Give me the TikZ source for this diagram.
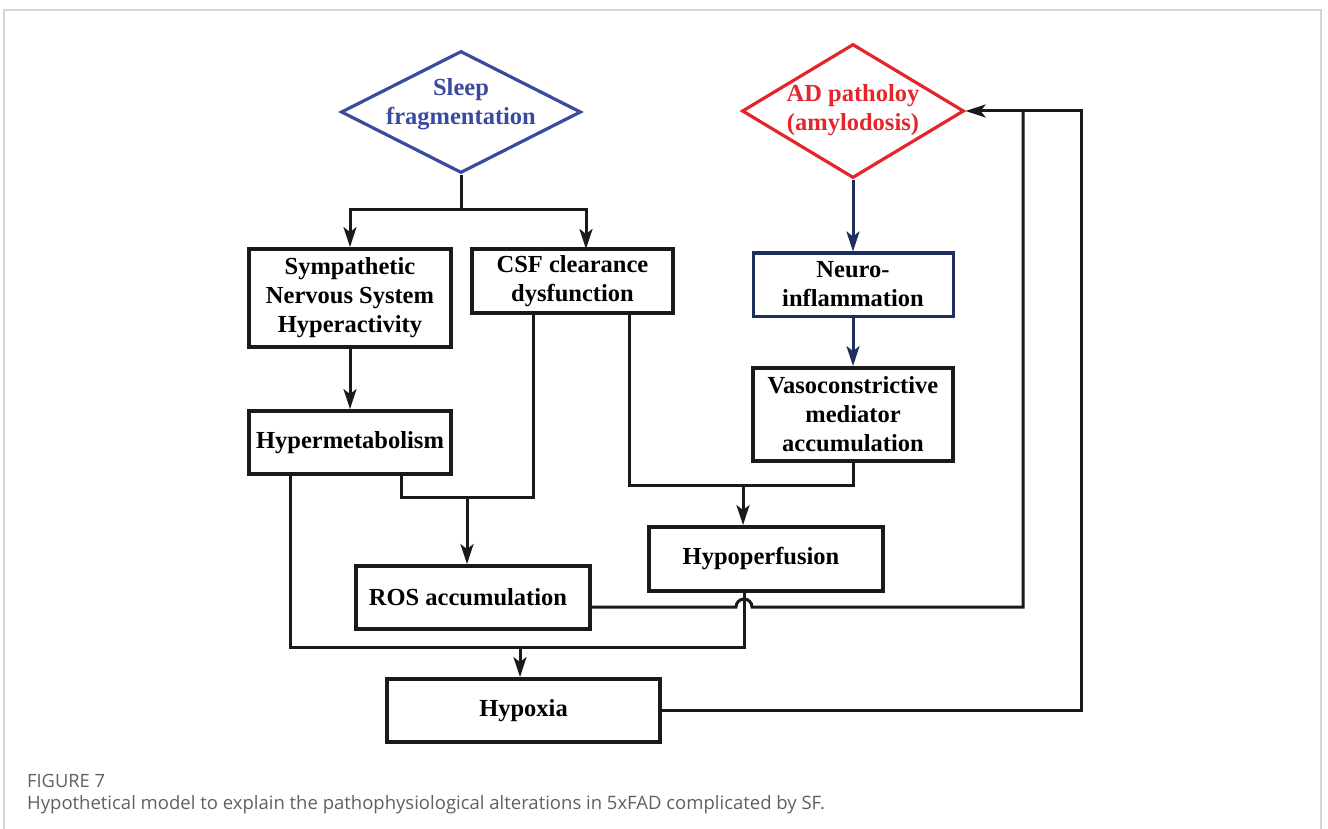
\documentclass[tikz,border=0pt]{standalone}
\usepackage{fontspec}
\setmainfont{Liberation Serif}
\newfontfamily\captionfont{Open Sans}
\usetikzlibrary{shapes.geometric,arrows.meta}

\definecolor{sleepblue}{HTML}{3A4AA0}
\definecolor{adred}{HTML}{E3262B}
\definecolor{navyline}{HTML}{1E2F5E}
\definecolor{boxblack}{HTML}{1A1A1A}
\definecolor{framegray}{HTML}{D4D4D4}
\definecolor{capgray}{HTML}{606060}

\begin{document}
\begin{tikzpicture}[x=1pt,y=-1pt,
    box/.style={draw=boxblack, line width=3.8pt, inner sep=0pt, align=center,
                font=\fontsize{24.5}{29}\selectfont\bfseries},
    dia/.style={shape=diamond, line width=3.2pt, inner sep=0pt},
    link/.style={draw=boxblack, line width=3pt},
    navylink/.style={draw=navyline, line width=3pt},
    tip/.style={-{Stealth[length=20pt,width=13pt,inset=5pt]}}]

    % Fix the page size
    \useasboundingbox (0,0) rectangle (1328,829);

    % Figure frame
    \draw[framegray, line width=1.5pt] (4,829) -- (4,10) -- (1321,10) -- (1321,829);

    % The two diamonds at the top
    \node[dia, draw=sleepblue, minimum width=240, minimum height=122,
          label={[sleepblue, align=center, yshift=8pt, font=\fontsize{24.5}{29}\selectfont\bfseries]center:Sleep\\fragmentation}]
          (sleep) at (461,112) {};
    \node[dia, draw=adred, minimum width=222, minimum height=134,
          label={[adred, align=center, yshift=1pt, font=\fontsize{24.5}{29}\selectfont\bfseries]center:AD patholoy\\(amylodosis)}]
          (ad) at (853,111) {};

    % Boxes
    \node[box, minimum width=202, minimum height=98] (symp) at (350,298) {Sympathetic\\Nervous System\\Hyperactivity};
    \node[box, minimum width=201, minimum height=64] (csf) at (572.5,281) {CSF clearance\\dysfunction};
    \node[box, minimum width=202, minimum height=63] (hyper) at (350,442.5) {Hypermetabolism};
    \node[box, draw=navyline, line width=3pt, minimum width=200, minimum height=63] (neuro) at (853,284.5) {Neuro-\\inflammation};
    \node[box, minimum width=200, minimum height=93] (vaso) at (853,414.5) {Vasoconstrictive\\mediator\\accumulation};
    \node[box, minimum width=234, minimum height=63] (ros) at (473,597.5) {ROS accumulation\hspace{10pt}};
    \node[box, minimum width=234, minimum height=64] (hypo) at (766,559) {Hypoperfusion\hspace{10pt}};
    \node[box, minimum width=273, minimum height=63] (hypox) at (523.5,710.5) {Hypoxia};

    % Branch points
    \coordinate (sf) at (461,210);      % fork under sleep fragmentation
    \coordinate (m1) at (467,497);      % join above ROS
    \coordinate (m2) at (743,485);      % join above hypoperfusion
    \coordinate (m3) at (520,647);      % join above hypoxia

    % Sleep fragmentation branches
    \draw[link] (sleep.south) -- (sf);
    \draw[link, tip] (sf) -| (symp.north);
    \draw[link, tip] (sf) -| (586,249);

    % AD pathology chain
    \draw[navylink, tip] (ad.south) -- (neuro.north);
    \draw[navylink, tip] (neuro.south) -- (vaso.north);

    % Left column
    \draw[link, tip] (symp.south) -- (hyper.north);

    % Into ROS accumulation
    \draw[link] (hyper.south -| 401,0) |- (533,497) -- (csf.south -| 533,0);
    \draw[link, tip] (m1) -- (ros.north -| m1);

    % Into hypoperfusion
    \draw[link] (csf.south -| 629,0) |- (vaso.south |- m2) -- (vaso.south);
    \draw[link, tip] (m2) -- (hypo.north -| m2);

    % Into hypoxia
    \draw[link] (hyper.south -| 290,0) |- (744,647) -- (hypo.south -| 744,0);
    \draw[link, tip] (m3) -- (hypox.north -| m3);

    % Feedback loops to AD pathology
    \draw[link] (ros.east |- 0,607) -- (736,607)
        arc[start angle=180, end angle=360, radius=8] -- (1023,607) -- (1023,111);
    \draw[link, tip] (hypox.east) -| (1081,111) -- (ad.east);

    % Caption
    \node[anchor=base west, inner sep=0pt, text=capgray, font=\captionfont\fontsize{18.3}{22}\selectfont]
        (figno) at (27,787) {FIGURE 7};
    \node[anchor=base west, inner sep=0pt, text=capgray, font=\captionfont\fontsize{18.5}{22}\selectfont]
        (caption) at (27,809) {Hypothetical model to explain the pathophysiological alterations in 5xFAD complicated by SF.};

\end{tikzpicture}
\end{document}
